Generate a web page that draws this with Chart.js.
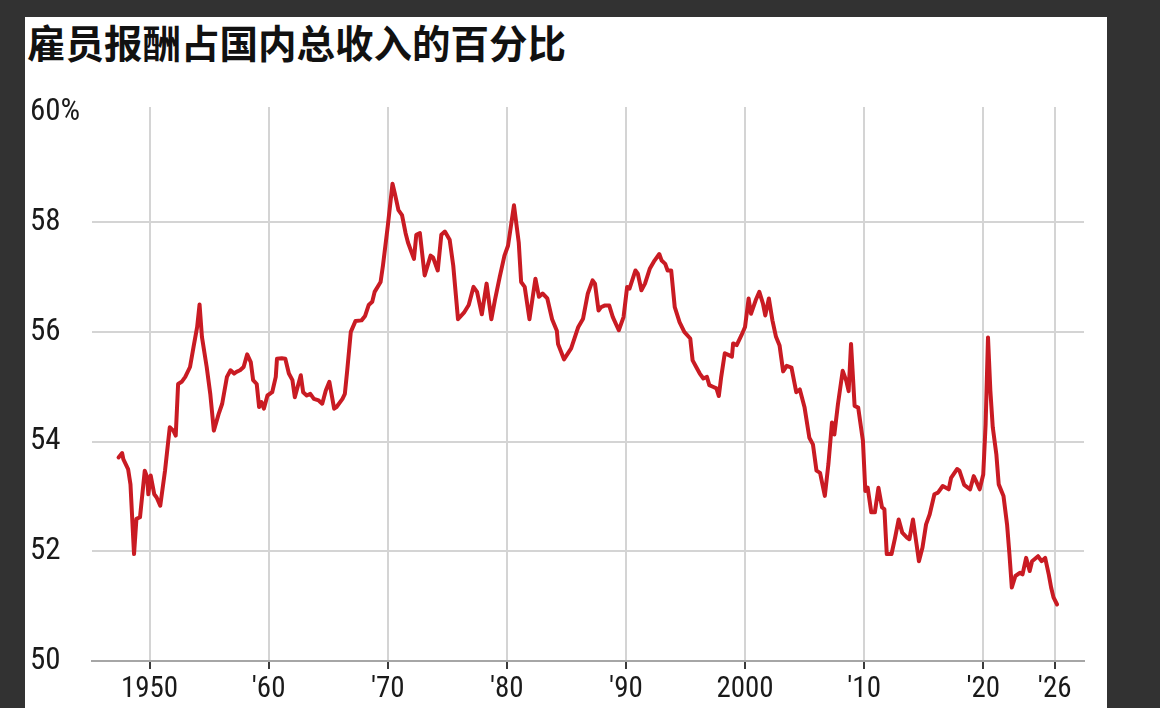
<!DOCTYPE html>
<html lang="zh">
<head>
<meta charset="utf-8">
<title>雇员报酬占国内总收入的百分比</title>
<script src="https://cdn.jsdelivr.net/npm/chart.js@4.4.1/dist/chart.umd.min.js"></script>
<style>
  html, body { margin: 0; padding: 0; background: #323232; width: 1160px; height: 708px; overflow: hidden; }
  #panel { position: absolute; left: 25px; top: 17px; width: 1082px; height: 691px; background: #fff; }
  #title { position: absolute; left: 27px; top: 19px; margin: 0; font: 700 38.5px/44px "Noto Sans CJK SC", sans-serif; color: #111; }
  #wrap { position: absolute; left: 0; top: 0; width: 1160px; height: 708px; }
</style>
</head>
<body>
<div id="panel"></div>
<h1 id="title">雇员报酬占国内总收入的百分比</h1>
<div id="wrap"><canvas id="chart" width="1160" height="708"></canvas></div>
<script>
// Values (year, share of gross domestic income in %)
const years = [
  1947.4, 1947.7, 1947.8, 1948.2, 1948.4, 1948.7, 1948.9, 1949.2, 1949.6, 1949.8,
  1949.9, 1950.1, 1950.4, 1950.6, 1950.9, 1951.3, 1951.7, 1952.0, 1952.2, 1952.4,
  1952.7, 1953.0, 1953.4, 1953.7, 1954.0, 1954.2, 1954.4, 1954.8, 1955.1, 1955.4,
  1955.8, 1956.1, 1956.5, 1956.8, 1957.1, 1957.3, 1957.6, 1957.9, 1958.2, 1958.5,
  1958.7, 1959.0, 1959.2, 1959.4, 1959.6, 1959.9, 1960.3, 1960.6, 1960.7, 1961.1,
  1961.4, 1961.7, 1962.0, 1962.2, 1962.7, 1962.9, 1963.2, 1963.5, 1963.8, 1964.2,
  1964.5, 1964.8, 1965.1, 1965.5, 1965.7, 1966.2, 1966.4, 1966.6, 1966.9, 1967.3,
  1967.8, 1968.1, 1968.4, 1968.7, 1968.9, 1969.4, 1969.6, 1970.0, 1970.4, 1970.6,
  1970.9, 1971.2, 1971.5, 1971.7, 1972.2, 1972.4, 1972.7, 1973.1, 1973.6, 1973.8,
  1974.2, 1974.5, 1974.8, 1975.2, 1975.5, 1975.9, 1976.4, 1976.8, 1977.2, 1977.5,
  1977.9, 1978.3, 1978.7, 1979.0, 1979.4, 1979.8, 1980.1, 1980.6, 1981.0, 1981.2,
  1981.5, 1981.9, 1982.4, 1982.7, 1983.0, 1983.4, 1983.8, 1984.2, 1984.3, 1984.8,
  1985.4, 1986.0, 1986.4, 1986.8, 1987.2, 1987.4, 1987.7, 1987.9, 1988.2, 1988.6,
  1988.9, 1989.4, 1989.8, 1990.1, 1990.3, 1990.8, 1991.0, 1991.3, 1991.6, 1992.0,
  1992.4, 1992.8, 1993.0, 1993.3, 1993.5, 1993.8, 1994.1, 1994.5, 1994.9, 1995.4,
  1995.6, 1995.9, 1996.2, 1996.5, 1996.8, 1997.0, 1997.3, 1997.6, 1997.8, 1998.0,
  1998.3, 1998.6, 1998.9, 1999.0, 1999.3, 1999.7, 2000.0, 2000.3, 2000.5, 2000.9,
  2001.2, 2001.5, 2001.7, 2002.0, 2002.3, 2002.6, 2002.9, 2003.2, 2003.5, 2003.9,
  2004.3, 2004.6, 2005.0, 2005.4, 2005.7, 2006.0, 2006.3, 2006.7, 2007.0, 2007.3,
  2007.5, 2007.8, 2008.2, 2008.5, 2008.7, 2008.9, 2009.2, 2009.5, 2009.9, 2010.1,
  2010.3, 2010.6, 2010.9, 2011.2, 2011.5, 2011.7, 2011.9, 2012.3, 2012.6, 2012.9,
  2013.2, 2013.6, 2013.8, 2014.1, 2014.4, 2014.6, 2014.9, 2015.2, 2015.5, 2015.9,
  2016.2, 2016.6, 2017.1, 2017.3, 2017.8, 2018.0, 2018.4, 2018.9, 2019.2, 2019.4,
  2019.7, 2020.0, 2020.2, 2020.4, 2020.6, 2020.8, 2021.1, 2021.3, 2021.7, 2022.0,
  2022.2, 2022.4, 2022.7, 2023.1, 2023.3, 2023.6, 2023.9, 2024.1, 2024.6, 2024.9,
  2025.2, 2025.5, 2025.7, 2025.9, 2026.2
];

const share = [
  53.71, 53.79, 53.68, 53.50, 53.22, 51.95, 52.59, 52.62, 53.47, 53.35,
  53.04, 53.38, 53.04, 52.98, 52.83, 53.47, 54.26, 54.20, 54.11, 55.05,
  55.09, 55.18, 55.36, 55.73, 56.09, 56.50, 55.91, 55.36, 54.87, 54.20,
  54.50, 54.69, 55.18, 55.30, 55.24, 55.27, 55.30, 55.36, 55.59, 55.45,
  55.12, 55.05, 54.63, 54.72, 54.60, 54.84, 54.90, 55.18, 55.51, 55.52,
  55.51, 55.24, 55.12, 54.81, 55.21, 54.90, 54.84, 54.87, 54.78, 54.75,
  54.69, 54.93, 55.09, 54.60, 54.63, 54.78, 54.87, 55.30, 56.00, 56.20,
  56.21, 56.29, 56.49, 56.55, 56.73, 56.91, 57.21, 57.92, 58.70, 58.52,
  58.22, 58.13, 57.80, 57.63, 57.33, 57.77, 57.80, 57.03, 57.39, 57.36,
  57.12, 57.77, 57.83, 57.68, 57.21, 56.23, 56.35, 56.49, 56.82, 56.73,
  56.32, 56.88, 56.23, 56.58, 57.00, 57.39, 57.57, 58.31, 57.63, 56.91,
  56.82, 56.23, 56.97, 56.64, 56.70, 56.61, 56.23, 56.02, 55.78, 55.50,
  55.70, 56.09, 56.24, 56.70, 56.94, 56.88, 56.39, 56.45, 56.48, 56.48,
  56.27, 56.03, 56.27, 56.82, 56.79, 57.12, 57.06, 56.76, 56.88, 57.15,
  57.30, 57.42, 57.30, 57.24, 57.12, 57.12, 56.45, 56.18, 56.00, 55.88,
  55.48, 55.36, 55.24, 55.15, 55.18, 55.03, 55.00, 54.97, 54.83, 55.18,
  55.61, 55.58, 55.55, 55.79, 55.76, 55.94, 56.09, 56.61, 56.33, 56.58,
  56.73, 56.52, 56.30, 56.61, 56.21, 55.91, 55.75, 55.28, 55.38, 55.35,
  54.90, 54.95, 54.62, 54.07, 53.95, 53.47, 53.43, 53.01, 53.59, 54.35,
  54.13, 54.68, 55.29, 55.11, 54.92, 55.78, 54.65, 54.62, 54.01, 53.10,
  53.16, 52.71, 52.71, 53.16, 52.80, 52.77, 51.95, 51.95, 52.25, 52.58,
  52.34, 52.25, 52.22, 52.58, 52.13, 51.82, 52.07, 52.49, 52.67, 53.04,
  53.07, 53.19, 53.13, 53.34, 53.50, 53.47, 53.21, 53.13, 53.37, 53.28,
  53.13, 53.40, 54.32, 55.90, 54.92, 54.26, 53.77, 53.22, 53.01, 52.49,
  51.95, 51.34, 51.55, 51.61, 51.58, 51.88, 51.64, 51.82, 51.91, 51.82,
  51.88, 51.58, 51.34, 51.16, 51.03
];

// Axis ticks
const xTickYears = [1950, 1960, 1970, 1980, 1990, 2000, 2010, 2020, 2026];
const xTickLabels = ['1950', "'60", "'70", "'80", "'90", '2000', "'10", "'20", "'26"];
const yTicks = [50, 52, 54, 56, 58, 60];
const yTickLabels = ['50', '52', '54', '56', '58', '60%'];

const tickFamily = "'Liberation Sans Narrow', 'Roboto Condensed', 'Arial Narrow', 'DejaVu Sans Condensed', sans-serif";

const points = years.map((yr, i) => ({ x: yr, y: share[i] }));

new Chart(document.getElementById('chart').getContext('2d'), {
    type: 'line',
    data: {
        datasets: [{
            data: points,
            borderColor: '#c91b23',
            borderWidth: 4,
            pointRadius: 0,
            tension: 0,
            borderJoinStyle: 'round',
            borderCapStyle: 'round'
        }]
    },
    options: {
        responsive: false,
        animation: false,
        devicePixelRatio: 1,
        layout: { padding: { left: 30, right: 76, top: 107, bottom: 0 } },
        plugins: {
            legend: { display: false },
            tooltip: { enabled: false }
        },
        scales: {
            x: {
                type: 'linear',
                min: 1945.17,
                max: 2028.46,
                afterBuildTicks: (s) => { s.ticks = xTickYears.map(v => ({ value: v })); },
                afterFit: (s) => { s.height = 47; },
                border: { display: true, color: '#a6a6a6', width: 2 },
                grid: { color: '#d4d4d4', lineWidth: 2, tickLength: 8, tickColor: '#3a3a3a' },
                ticks: {
                    padding: 3,
                    color: '#1a1a1a',
                    font: { family: tickFamily, size: 29 },
                    maxRotation: 0,
                    autoSkip: false,
                    callback: (v, i) => xTickLabels[i]
                }
            },
            y: {
                type: 'linear',
                min: 50,
                max: 60.1,
                afterBuildTicks: (s) => { s.ticks = yTicks.map(v => ({ value: v })); },
                afterFit: (s) => { s.width = 62; },
                border: { display: false },
                grid: {
                    // no line at the top value, the bottom one is the x axis
                    color: (ctx) => (ctx.tick && (ctx.tick.value === 60 || ctx.tick.value === 50)) ? 'rgba(0,0,0,0)' : '#d4d4d4',
                    lineWidth: 2,
                    drawTicks: false
                },
                ticks: {
                    crossAlign: 'far',
                    padding: 0,
                    color: '#1a1a1a',
                    font: { family: tickFamily, size: 31 },
                    callback: (v, i) => yTickLabels[i]
                }
            }
        }
    }
});
</script>
</body>
</html>
